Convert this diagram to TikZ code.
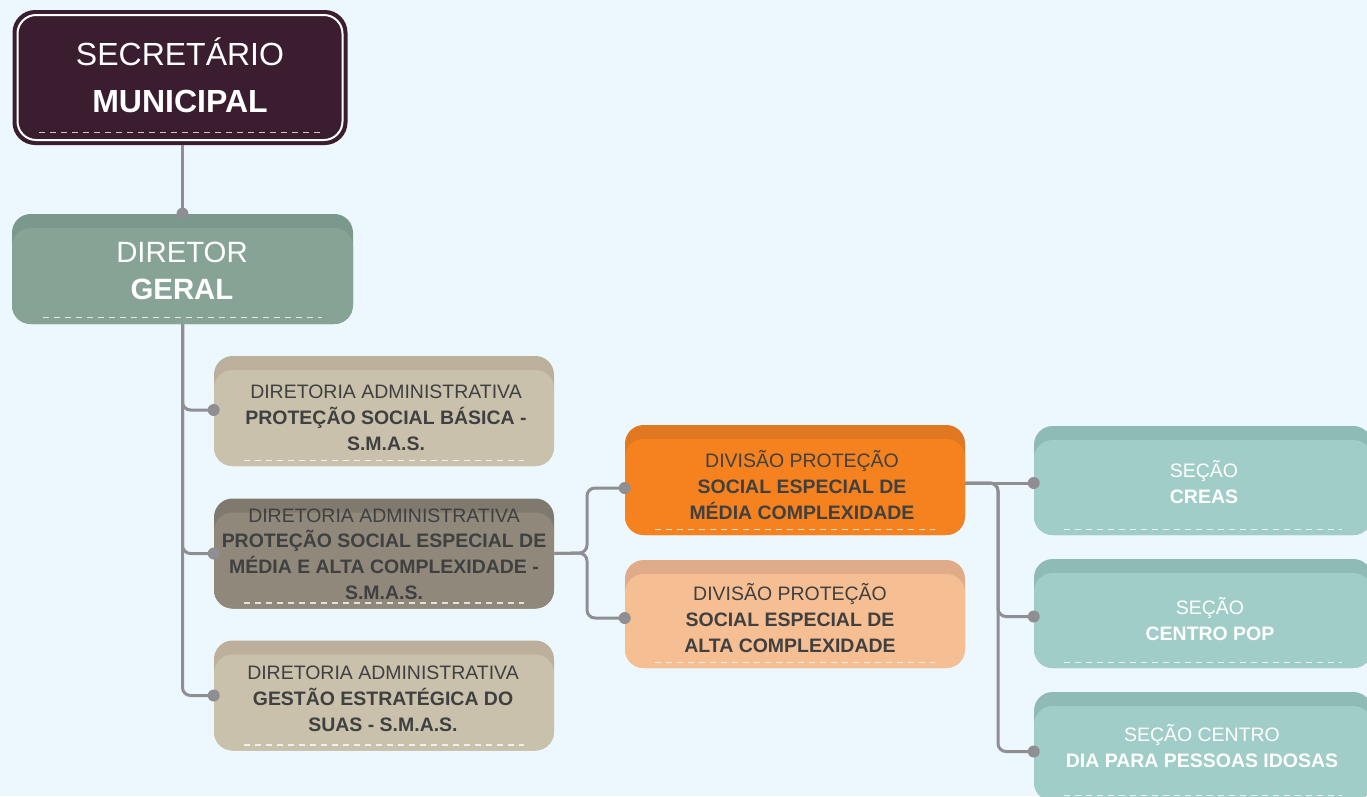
\documentclass[tikz,border=0pt]{standalone}
\usepackage{fontspec}
\setmainfont{Liberation Sans}
\usetikzlibrary{calc}
\definecolor{bg}{HTML}{EDF8FE}
\definecolor{secF}{HTML}{3A1D2E}
\definecolor{dirS}{HTML}{7A988B}
\definecolor{dirB}{HTML}{86A396}
\definecolor{tanS}{HTML}{BCB09D}
\definecolor{tanB}{HTML}{CAC1AD}
\definecolor{gryS}{HTML}{807A6E}
\definecolor{gryB}{HTML}{8F887B}
\definecolor{orS}{HTML}{DF7820}
\definecolor{orB}{HTML}{F5821F}
\definecolor{lorS}{HTML}{E0AB88}
\definecolor{lorB}{HTML}{F6BE93}
\definecolor{tlS}{HTML}{8FBBB6}
\definecolor{tlB}{HTML}{A0CDC7}
\definecolor{lineC}{HTML}{8E8E93}
\definecolor{txtD}{HTML}{404040}
\tikzset{
  card/.style 2 args={rectangle, rounded corners=14pt, fill=#1, inner sep=0pt, draw=none,
    path picture={\fill[#2, rounded corners=14pt] ([yshift=-10.5pt]path picture bounding box.north west) rectangle (path picture bounding box.south east);}},
  dsize/.style={minimum width=255pt, minimum height=82.5pt},
  ssize/.style={minimum width=253.5pt, minimum height=81.75pt},
  secbox/.style={rectangle, rounded corners=17pt, fill=secF, inner sep=0pt, minimum width=251.25pt, minimum height=101.25pt,
    path picture={\draw[white, line width=1.5pt, rounded corners=14pt] ([shift={(3.75pt,-3.75pt)}]path picture bounding box.north west) rectangle ([shift={(-3.75pt,3.75pt)}]path picture bounding box.south east);}},
  bigtxt/.style={anchor=base, align=center, inner sep=0pt, text=white, font=\fontsize{24pt}{35.25pt}\selectfont},
  dirtxt/.style={anchor=base, align=center, inner sep=0pt, text=white, font=\fontsize{22pt}{27.75pt}\selectfont},
  smalltxt/.style={anchor=base, align=center, inner sep=0pt, text=txtD, font=\fontsize{14.6pt}{19.2pt}\selectfont},
  whitetxt/.style={smalltxt, text=white},
  conn/.style={draw=lineC, line width=2.25pt, rounded corners=6pt},
  dot/.style={fill=lineC},
  dashline/.style={draw=white, draw opacity=0.75, line width=1.1pt, dash pattern=on 4.5pt off 3.75pt}
}
\begin{document}
\begin{tikzpicture}[x=0.75pt,y=-0.75pt]
\useasboundingbox (0,0) rectangle (1367,796);
\fill[bg] (0,0) rectangle (1367,796);
\begin{scope}
\clip (0,0) rectangle (1367,796);
% boxes
\node[secbox] (sec) at (180,77.5) {};
\node[card={dirS}{dirB}, minimum width=255.75pt, minimum height=82.5pt] (dir) at (182.5,269) {};
\node[card={tanS}{tanB}, dsize] (d1) at (384,411) {};
\node[card={gryS}{gryB}, dsize] (d2) at (384,553.5) {};
\node[card={tanS}{tanB}, dsize] (d3) at (384,695.5) {};
\node[card={orS}{orB}, dsize] (v1) at (795,480) {};
\node[card={lorS}{lorB}, dsize, minimum height=81pt] (v2) at (795,614) {};
\node[card={tlS}{tlB}, ssize] (s1) at (1203,480.5) {};
\node[card={tlS}{tlB}, ssize] (s2) at (1203,613.5) {};
\node[card={tlS}{tlB}, ssize] (s3) at (1203,746.5) {};
% dashed lines
\draw[dashline] ([xshift=20.25pt,yshift=9.75pt]sec.south west) -- ([xshift=-20.25pt,yshift=9.75pt]sec.south east);
\draw[dashline] ([xshift=23.25pt,yshift=5.25pt]dir.south west) -- ([xshift=-23.25pt,yshift=5.25pt]dir.south east);
\foreach \n in {d1,d2,d3,v1,v2,s1,s2,s3}
  \draw[dashline] ([xshift=22.5pt,yshift=4.5pt]\n.south west) -- ([xshift=-22.5pt,yshift=4.5pt]\n.south east);
% texts (anchor = baseline of last line)
\node[bigtxt] (sec-t) at (180,112) {SECRETÁRIO\\\textbf{MUNICIPAL}};
\node[dirtxt] (dir-t) at (182,299) {DIRETOR\\\textbf{GERAL}};
\node[smalltxt] (d1-t) at (386,450) {DIRETORIA ADMINISTRATIVA\\\textbf{PROTEÇÃO SOCIAL BÁSICA -}\\\textbf{S.M.A.S.}};
\node[smalltxt] (d2-t) at (384,599) {DIRETORIA ADMINISTRATIVA\\\textbf{PROTEÇÃO SOCIAL ESPECIAL DE}\\\textbf{MÉDIA E ALTA COMPLEXIDADE -}\\\textbf{S.M.A.S.}};
\node[smalltxt] (d3-t) at (383,731) {DIRETORIA ADMINISTRATIVA\\\textbf{GESTÃO ESTRATÉGICA DO}\\\textbf{SUAS - S.M.A.S.}};
\node[smalltxt] (v1-t) at (802,519) {DIVISÃO PROTEÇÃO\\\textbf{SOCIAL ESPECIAL DE}\\\textbf{MÉDIA COMPLEXIDADE}};
\node[smalltxt] (v2-t) at (790,652) {DIVISÃO PROTEÇÃO\\\textbf{SOCIAL ESPECIAL DE}\\\textbf{ALTA COMPLEXIDADE}};
\node[whitetxt] (s1-t) at (1204,503) {SEÇÃO\\\textbf{CREAS}};
\node[whitetxt] (s2-t) at (1210,640) {SEÇÃO\\\textbf{CENTRO POP}};
\node[whitetxt] (s3-t) at (1202,767) {SEÇÃO CENTRO\\\textbf{DIA PARA PESSOAS IDOSAS}};
% connectors
\coordinate (d1in) at ($(d1.west)+(0,-1)$);
\coordinate (v1in) at ($(v1.west)+(0,8)$);
\coordinate (v2in) at ($(v2.west)+(0,4)$);
\coordinate (v1out) at ($(v1.east)+(0,3)$);
\coordinate (s1in) at ($(s1.west)+(0,2.5)$);
\coordinate (s2in) at ($(s2.west)+(0,3)$);
\coordinate (s3in) at ($(s3.west)+(0,5)$);
\coordinate (j1) at (587,553);
\coordinate (j2) at (998,483);
\draw[conn] (sec.south -| dir.north) -- (dir.north);
\draw[conn] (dir.south) |- (d1in);
\draw[conn] (dir.south) |- (d2.west);
\draw[conn] (dir.south) |- (d3.west);
\draw[conn] (d2.east) -- (j1) |- (v1in);
\draw[conn] (d2.east) -- (j1) |- (v2in);
\draw[conn] (v1out) -- (s1in);
\draw[conn] (v1out) -- (j2) |- (s2in);
\draw[conn] (v1out) -- (j2) |- (s3in);
\foreach \p in {dir.north,d1in,d2.west,d3.west,v1in,v2in,s1in,s2in,s3in}
  \fill[dot] (\p) circle[radius=4.5pt];
\end{scope}
\end{tikzpicture}
\end{document}
